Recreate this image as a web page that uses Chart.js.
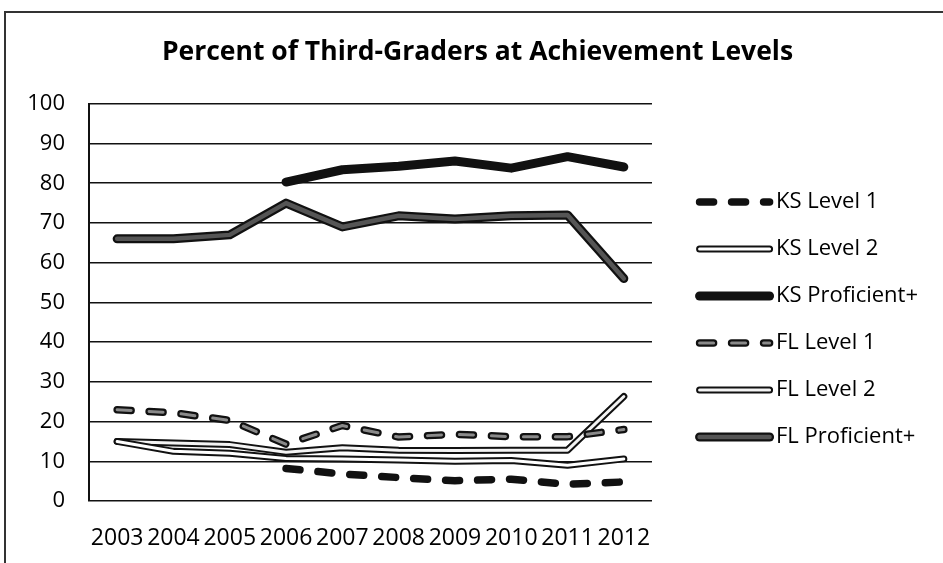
<!DOCTYPE html>
<html>
<head>
<meta charset="utf-8">
<script src="https://cdn.jsdelivr.net/npm/chart.js@4.4.1/dist/chart.umd.min.js"></script>
<style>
  html, body { margin: 0; padding: 0; background: #fff; }
  #wrap { position: relative; width: 943px; height: 563px; }
</style>
</head>
<body>
<div id="wrap"><canvas id="myChart" width="943" height="563"></canvas></div>
<script>
'use strict';

const years = ['2003', '2004', '2005', '2006', '2007', '2008', '2009', '2010', '2011', '2012'];
const yTicks = [0, 10, 20, 30, 40, 50, 60, 70, 80, 90, 100];
const seriesNames = ['KS Level 1', 'KS Level 2', 'KS Proficient+', 'FL Level 1', 'FL Level 2', 'FL Proficient+'];

const ksLevel1 = [null, null, null, 8.2, 6.8, 5.9, 5.1, 5.5, 4.2, 4.8];
const ksLevel2 = [15, 12.5, 12, 10.7, 10.6, 10.3, 10, 10.2, 9, 10.6];
const ksProficient = [null, null, null, 80.3, 83.4, 84.3, 85.6, 83.8, 86.7, 84.1];
const flLevel1 = [23, 22.2, 20.3, 14.3, 19, 16.1, 16.8, 16.2, 16.2, 18];
const flLevel2 = [15, 14.6, 14.2, 12.3, 13.4, 12.8, 12.7, 12.8, 12.8, 26.3];
const flProficient = [66, 66, 67, 75, 69, 71.8, 71, 71.8, 72, 56];

const FONT = "'Open Sans', 'DejaVu Sans', sans-serif";

// outer colour/width + optional inner stroke for the "double" line looks
function lineSet(label, data, width, dash, inner, innerWidth) {
    return {
        label: label,
        data: data,
        borderColor: '#111',
        borderWidth: width,
        borderDash: dash,
        borderCapStyle: 'round',
        borderJoinStyle: 'round',
        pointRadius: 0,
        pointHoverRadius: 0,
        fill: false,
        tension: 0,
        spanGaps: false,
        innerColor: inner,
        innerWidth: innerWidth
    };
}

const datasets = [
    lineSet(seriesNames[0], ksLevel1, 7.5, [14, 18], null, 0),
    lineSet(seriesNames[1], ksLevel2, 7, [], '#ffffff', 3),
    lineSet(seriesNames[2], ksProficient, 9, [], null, 0),
    lineSet(seriesNames[3], flLevel1, 7.5, [14, 18], '#8a8a8a', 3),
    lineSet(seriesNames[4], flLevel2, 7, [], '#f4f4f4', 3),
    lineSet(seriesNames[5], flProficient, 9, [], '#555555', 4.5)
];

function strokeInner(ctx, pts, ds) {
    ctx.save();
    ctx.strokeStyle = ds.innerColor;
    ctx.lineWidth = ds.innerWidth;
    ctx.lineCap = 'round';
    ctx.lineJoin = 'round';
    ctx.setLineDash(ds.borderDash);
    ctx.beginPath();
    let open = false;
    pts.forEach(function (p) {
        if (p == null) { open = false; return; }
        if (!open) { ctx.moveTo(p.x, p.y); open = true; } else { ctx.lineTo(p.x, p.y); }
    });
    ctx.stroke();
    ctx.restore();
}

const doubleLines = {
    id: 'doubleLines',
    afterDatasetDraw(chart, args) {
        const ds = chart.data.datasets[args.index];
        if (!ds.innerColor) return;
        const pts = args.meta.data.map(function (el, i) {
            return ds.data[i] == null ? null : { x: el.x, y: el.y };
        });
        strokeInner(chart.ctx, pts, ds);
    }
};

// draws the line samples of the legend in place of the boxes
const legendLines = {
    id: 'legendLines',
    afterDraw(chart) {
        const lg = chart.legend;
        if (!lg || !lg.legendHitBoxes) return;
        const ctx = chart.ctx;
        lg.legendHitBoxes.forEach(function (hb, i) {
            const ds = chart.data.datasets[i];
            const y = hb.top + hb.height / 2;
            const x0 = hb.left + 22.6, x1 = hb.left + 92.6;
            ctx.save();
            ctx.strokeStyle = ds.borderColor;
            ctx.lineWidth = ds.borderWidth;
            ctx.lineCap = 'round';
            ctx.setLineDash(ds.borderDash);
            ctx.beginPath();
            ctx.moveTo(x0, y);
            ctx.lineTo(x1, y);
            ctx.stroke();
            ctx.restore();
            if (ds.innerColor) strokeInner(ctx, [{ x: x0, y: y }, { x: x1, y: y }], ds);
        });
    }
};

const frame = {
    id: 'frame',
    beforeDraw(chart) {
        const ctx = chart.ctx;
        ctx.save();
        ctx.strokeStyle = '#333';
        ctx.lineWidth = 2;
        ctx.beginPath();
        ctx.moveTo(5, 563);
        ctx.lineTo(5, 12);
        ctx.lineTo(943, 12);
        ctx.stroke();
        ctx.restore();
    }
};

const myChart = new Chart(document.getElementById('myChart'), {
    type: 'line',
    data: { labels: years, datasets: datasets },
    options: {
        responsive: false,
        animation: false,
        devicePixelRatio: 1,
        layout: { padding: { left: 27, right: 15, top: 0, bottom: 0 } },
        plugins: {
            title: {
                display: true,
                text: 'Percent of Third-Graders at Achievement Levels',
                color: '#000',
                font: { family: FONT, size: 26.5, weight: 'bold' },
                padding: { top: 37, bottom: 35 }
            },
            legend: {
                position: 'right',
                align: 'center',
                maxWidth: 300,
                title: { display: true, text: '', padding: { top: 61.6, bottom: 0 } },
                labels: {
                    font: { family: FONT, size: 22 },
                    color: '#000',
                    boxWidth: 88,
                    boxHeight: 4,
                    padding: 25,
                    generateLabels: function (chart) {
                        return chart.data.datasets.map(function (ds, i) {
                            return {
                                text: ds.label,
                                fillStyle: 'rgba(0,0,0,0)',
                                strokeStyle: 'rgba(0,0,0,0)',
                                lineWidth: 0,
                                datasetIndex: i,
                                fontColor: '#000'
                            };
                        });
                    }
                }
            },
            tooltip: { enabled: false }
        },
        scales: {
            x: {
                offset: true,
                grid: { display: false, drawTicks: false },
                border: { display: false },
                ticks: {
                    color: '#000',
                    font: { family: FONT, size: 23 },
                    padding: 24,
                    maxRotation: 0,
                    autoSkip: false
                },
                afterFit: function (scale) { scale.height = 62; }
            },
            y: {
                min: 0,
                max: 100,
                afterBuildTicks: function (scale) {
                    scale.ticks = yTicks.map(function (v) { return { value: v }; });
                },
                grid: { color: '#111', lineWidth: 1.5, drawTicks: false },
                border: { display: true, color: '#111', width: 2 },
                ticks: {
                    color: '#000',
                    font: { family: FONT, size: 22 },
                    padding: 24
                },
                afterFit: function (scale) { scale.width = 62; }
            }
        }
    },
    plugins: [frame, doubleLines, legendLines]
});
</script>
</body>
</html>
